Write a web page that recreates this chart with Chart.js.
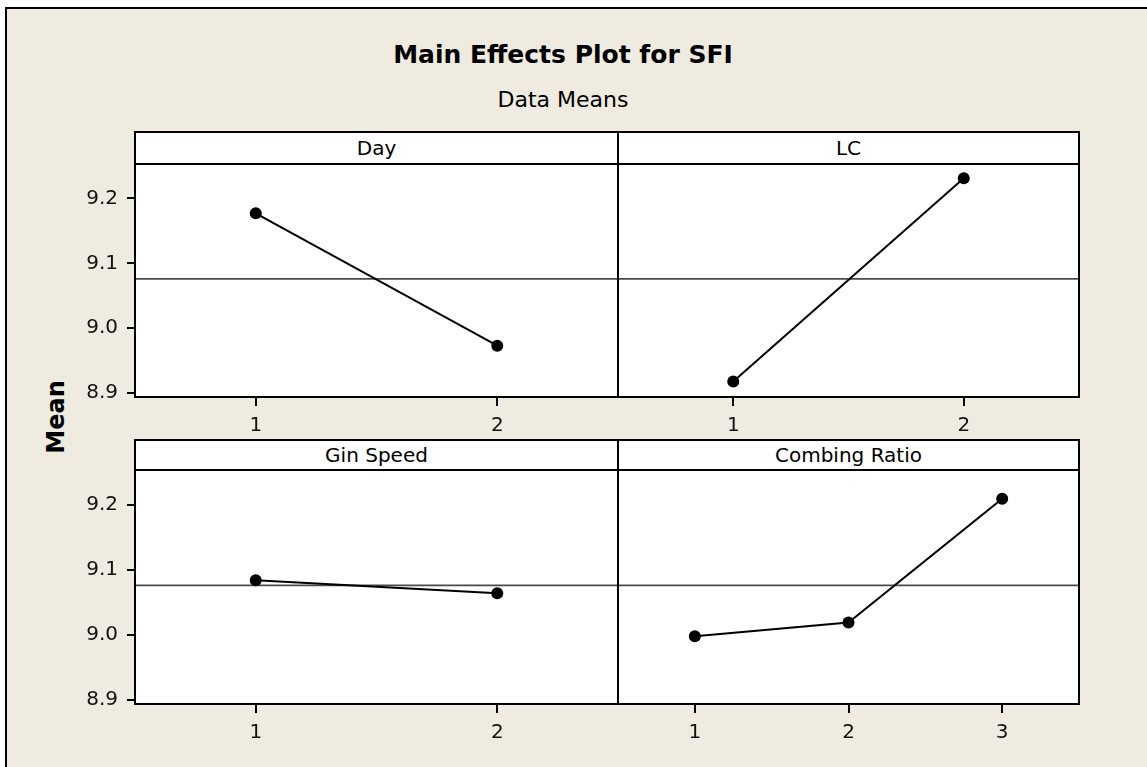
<!DOCTYPE html>
<html>
<head>
<meta charset="utf-8">
<script src="https://cdn.jsdelivr.net/npm/chart.js@4"></script>
<style>
  body {
    margin: 0;
    width: 1147px;
    height: 767px;
    overflow: hidden;
    position: relative;
    background: #fff;
    font-family: "DejaVu Sans", sans-serif;
    color: #000;
  }
  #frame {
    position: absolute;
    left: 5px;
    top: 7px;
    width: 1200px;
    height: 800px;
    background: #efebe1;
    border-top: 2px solid #000;
    border-left: 2px solid #000;
  }
  canvas { position: absolute; }
  .hdr {
    position: absolute;
    box-sizing: border-box;
    background: #fff;
    border: 2px solid #000;
    text-align: center;
    font-size: 20px;
  }
  .title {
    position: absolute;
    left: 0;
    width: 1126px;
    text-align: center;
  }
</style>
</head>
<body>
<div id="frame"></div>
<div class="title" style="top:40px;font-size:25px;font-weight:bold;line-height:30px;">Main Effects Plot for SFI</div>
<div class="title" style="top:87px;font-size:22px;line-height:26px;">Data Means</div>
<div style="position:absolute;left:56px;top:417px;transform:translate(-50%,-50%) rotate(-90deg);font-size:24px;font-weight:bold;">Mean</div>

<div class="hdr" style="left:134px;top:131px;width:485px;height:34px;line-height:30px;">Day</div>
<div class="hdr" style="left:617px;top:131px;width:463px;height:34px;line-height:30px;">LC</div>
<div class="hdr" style="left:134px;top:439px;width:485px;height:32px;line-height:28px;">Gin Speed</div>
<div class="hdr" style="left:617px;top:439px;width:463px;height:32px;line-height:28px;">Combing Ratio</div>

<canvas id="day" width="624" height="279" style="left:0;top:158px"></canvas>
<canvas id="lc" width="473" height="279" style="left:612px;top:158px"></canvas>
<canvas id="gin" width="624" height="280" style="left:0;top:464px"></canvas>
<canvas id="comb" width="473" height="280" style="left:612px;top:464px"></canvas>

<script>
// factor levels and mean SFI at each level
const dayLevels = [1, 2];
const dayMeans = [9.177, 8.973];

const lcLevels = [1, 2];
const lcMeans = [8.918, 9.231];

const ginLevels = [1, 2];
const ginMeans = [9.084, 9.064];

const combLevels = [1, 2, 3];
const combMeans = [8.998, 9.019, 9.209];

const grandMean = 9.076;
const yTicks = [8.9, 9.0, 9.1, 9.2];

// white plot area and black frame
const panelFrame = {
  id: "panelFrame",
  beforeDraw(chart) {
    const a = chart.chartArea;
    const ctx = chart.ctx;
    ctx.save();
    ctx.fillStyle = "#fff";
    ctx.fillRect(a.left, a.top, a.right - a.left, a.bottom - a.top);
    ctx.restore();
  },
  afterDraw(chart) {
    const a = chart.chartArea;
    const ctx = chart.ctx;
    ctx.save();
    ctx.strokeStyle = "#000";
    ctx.lineWidth = 2;
    ctx.strokeRect(a.left, a.top, a.right - a.left, a.bottom - a.top);
    ctx.restore();
  },
};

function makePanel(id, levels, means, showY) {
  const xMin = 0.5;
  const xMax = levels.length + 0.5;
  const tickFont = { family: "DejaVu Sans", size: 20 };

  new Chart(document.getElementById(id), {
    type: "scatter",
    data: {
      datasets: [
        {
          data: levels.map((l, i) => ({ x: l, y: means[i] })),
          showLine: true,
          borderColor: "#000",
          backgroundColor: "#000",
          borderWidth: 2,
          pointRadius: 6,
          pointBorderWidth: 0,
          order: 1,
        },
        {
          data: [
            { x: xMin, y: grandMean },
            { x: xMax, y: grandMean },
          ],
          showLine: true,
          borderColor: "#4a4a4a",
          borderWidth: 1.8,
          pointRadius: 0,
          order: 2,
        },
      ],
    },
    options: {
      responsive: false,
      animation: false,
      devicePixelRatio: 1,
      layout: {
        padding: { top: 6, bottom: 0, left: showY ? 0 : 6, right: 6 },
      },
      plugins: {
        legend: { display: false },
        tooltip: { enabled: false },
      },
      scales: {
        x: {
          type: "linear",
          min: xMin,
          max: xMax,
          afterBuildTicks: (s) => {
            s.ticks = levels.map((v) => ({ value: v }));
          },
          afterFit: (s) => {
            s.height = 40;
            s.paddingLeft = 0;
            s.paddingRight = 0;
          },
          border: { display: false },
          grid: {
            drawOnChartArea: false,
            drawTicks: true,
            tickLength: 9,
            color: "#000",
            lineWidth: 2,
          },
          ticks: {
            color: "#111",
            font: tickFont,
            padding: 8,
            callback: (v) => String(v),
          },
        },
        y: {
          display: showY,
          min: 8.894,
          max: 9.253,
          afterBuildTicks: (s) => {
            s.ticks = yTicks.map((v) => ({ value: v }));
          },
          afterFit: (s) => {
            s.width = showY ? 135 : 0;
            s.paddingTop = 0;
            s.paddingBottom = 0;
          },
          border: { display: false },
          grid: {
            drawOnChartArea: false,
            drawTicks: true,
            tickLength: 8,
            color: "#000",
            lineWidth: 2,
          },
          ticks: {
            color: "#111",
            font: tickFont,
            padding: 9,
            callback: (v) => v.toFixed(1),
          },
        },
      },
    },
    plugins: [panelFrame],
  });
}

makePanel("day", dayLevels, dayMeans, true);
makePanel("lc", lcLevels, lcMeans, false);
makePanel("gin", ginLevels, ginMeans, true);
makePanel("comb", combLevels, combMeans, false);
</script>
</body>
</html>
